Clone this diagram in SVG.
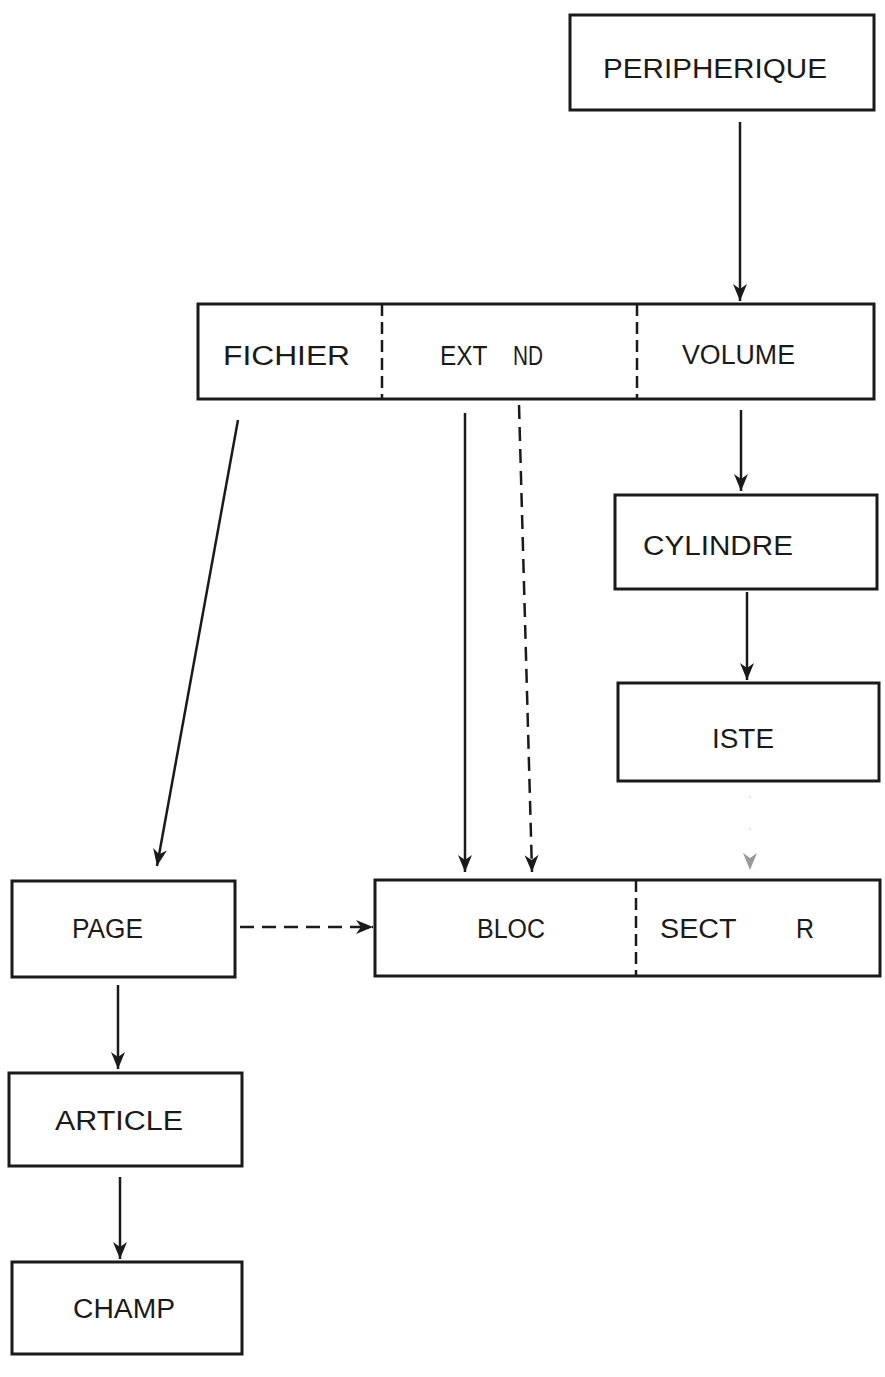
<svg xmlns="http://www.w3.org/2000/svg" width="885" height="1377" viewBox="0 0 885 1377">
<style>
.box{fill:none;stroke:#1a1a1a;stroke-width:3}
.div{stroke:#1a1a1a;stroke-width:2.5;stroke-dasharray:12 6}
.t{font-family:"Liberation Sans",Arial,sans-serif;font-size:27px;fill:#1a1a1a}
.c{fill:none;stroke:#1a1a1a;stroke-width:2.5}
.d{fill:none;stroke:#1a1a1a;stroke-width:2.5;stroke-dasharray:14 8}
.f{fill:none;stroke:#d8d8d8;stroke-width:1.2;stroke-dasharray:2 30}
</style>
<defs>
<marker id="ah" viewBox="0 0 18 16" refX="17" refY="8" markerWidth="18" markerHeight="16" markerUnits="userSpaceOnUse" orient="auto">
<path d="M0,1 L17,8 L0,15 L5,8 Z" fill="#1a1a1a"/>
</marker>
<marker id="ahf" viewBox="0 0 18 16" refX="17" refY="8" markerWidth="18" markerHeight="16" markerUnits="userSpaceOnUse" orient="auto">
<path d="M0,1 L17,8 L0,15 L5,8 Z" fill="#9a9a9a"/>
</marker>
</defs>
<rect width="885" height="1377" fill="#fff"/>
<g id="connectors">
<line class="c" x1="740" y1="122" x2="740" y2="301" marker-end="url(#ah)"/>
<line class="c" x1="741" y1="410" x2="741" y2="491" marker-end="url(#ah)"/>
<line class="c" x1="747" y1="592" x2="747" y2="680" marker-end="url(#ah)"/>
<line class="f" x1="750" y1="796" x2="750" y2="870" marker-end="url(#ahf)"/>
<line class="c" x1="238" y1="420" x2="157" y2="866" marker-end="url(#ah)"/>
<line class="c" x1="465" y1="413" x2="465" y2="872" marker-end="url(#ah)"/>
<line class="d" x1="519" y1="405" x2="532" y2="872" marker-end="url(#ah)"/>
<line class="d" x1="240" y1="927" x2="373" y2="927" marker-end="url(#ah)"/>
<line class="c" x1="118" y1="985" x2="118" y2="1069" marker-end="url(#ah)"/>
<line class="c" x1="120" y1="1177" x2="120" y2="1259" marker-end="url(#ah)"/>
</g>
<g id="peripherique">
<rect class="box" x="570" y="15" width="304" height="95"/>
<text class="t" x="603" y="78" textLength="224" lengthAdjust="spacingAndGlyphs">PERIPHERIQUE</text>
</g>
<g id="fichier-row">
<rect class="box" x="198" y="304" width="676" height="95"/>
<line class="div" x1="382" y1="304" x2="382" y2="399"/>
<line class="div" x1="637" y1="304" x2="637" y2="399"/>
<text class="t" x="223" y="365" textLength="127" lengthAdjust="spacingAndGlyphs">FICHIER</text>
<text class="t" y="365" xml:space="preserve"><tspan x="440" textLength="47" lengthAdjust="spacingAndGlyphs">EXT</tspan> <tspan x="513" textLength="30" lengthAdjust="spacingAndGlyphs">ND</tspan></text>
<text class="t" x="682" y="364" textLength="113" lengthAdjust="spacingAndGlyphs">VOLUME</text>
</g>
<g id="cylindre">
<rect class="box" x="615" y="495" width="262" height="94"/>
<text class="t" x="643" y="555" textLength="150" lengthAdjust="spacingAndGlyphs">CYLINDRE</text>
</g>
<g id="piste">
<rect class="box" x="618" y="683" width="261" height="98"/>
<text class="t" x="712" y="748" textLength="62" lengthAdjust="spacingAndGlyphs">ISTE</text>
</g>
<g id="bloc-secteur">
<rect class="box" x="375" y="880" width="505" height="96"/>
<line class="div" x1="636" y1="880" x2="636" y2="976"/>
<text class="t" x="477" y="938" textLength="68" lengthAdjust="spacingAndGlyphs">BLOC</text>
<text class="t" y="938" xml:space="preserve"><tspan x="660" textLength="76" lengthAdjust="spacingAndGlyphs">SECT</tspan> <tspan x="796" textLength="18" lengthAdjust="spacingAndGlyphs">R</tspan></text>
</g>
<g id="page">
<rect class="box" x="12" y="881" width="223" height="96"/>
<text class="t" x="72" y="938" textLength="71" lengthAdjust="spacingAndGlyphs">PAGE</text>
</g>
<g id="article">
<rect class="box" x="9" y="1073" width="233" height="93"/>
<text class="t" x="55" y="1130" textLength="128" lengthAdjust="spacingAndGlyphs">ARTICLE</text>
</g>
<g id="champ">
<rect class="box" x="12" y="1262" width="230" height="92"/>
<text class="t" x="73" y="1318" textLength="102" lengthAdjust="spacingAndGlyphs">CHAMP</text>
</g>
</svg>
